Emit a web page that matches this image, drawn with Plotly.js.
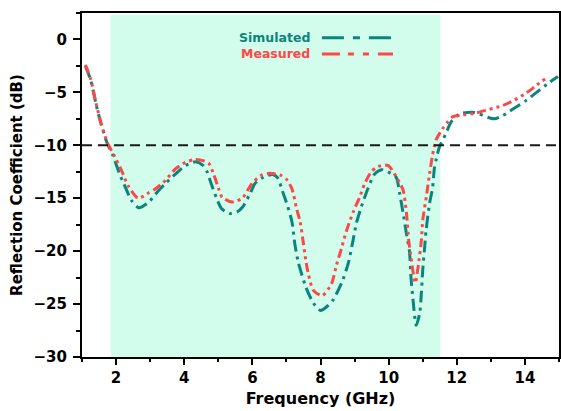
<!DOCTYPE html>
<html>
<head>
<meta charset="utf-8">
<script src="https://cdn.plot.ly/plotly-3.0.1.min.js"></script>
<style>
  html, body { margin: 0; padding: 0; background: #ffffff; }
  #chart { width: 561px; height: 411px; }
</style>
</head>
<body>
<div id="chart"></div>
<script>
// Reflection coefficient of the antenna: simulated vs measured (dB over GHz)
const freqSim = [1.10, 1.26, 1.41, 1.56, 1.75, 1.90, 2.09, 2.29, 2.45, 2.67, 2.95, 3.21, 3.45, 3.75, 4.04, 4.35, 4.55, 4.67, 4.80, 4.95, 5.10, 5.35, 5.55, 5.72, 5.94, 6.08, 6.33, 6.60, 6.75, 6.88, 7.03, 7.16, 7.25, 7.35, 7.45, 7.57, 7.79, 8.00, 8.20, 8.37, 8.62, 8.81, 8.96, 9.05, 9.20, 9.39, 9.59, 9.79, 9.98, 10.22, 10.32, 10.42, 10.52, 10.61, 10.66, 10.71, 10.81, 10.91, 10.96, 11.00, 11.05, 11.10, 11.20, 11.29, 11.34, 11.39, 11.49, 11.68, 11.83, 12.07, 12.51, 12.95, 13.10, 13.34, 13.73, 14.02, 14.36, 14.70, 14.97];
const s11Sim = [-2.5, -3.9, -6.1, -8.0, -9.9, -10.9, -12.6, -14.1, -15.2, -15.9, -15.4, -14.4, -13.6, -12.7, -11.9, -11.55, -11.9, -12.5, -13.7, -15.0, -16.0, -16.45, -16.3, -15.8, -14.5, -13.6, -13.0, -12.75, -13.1, -14.3, -15.7, -17.2, -19.4, -21.1, -22.2, -23.4, -24.9, -25.6, -25.2, -24.6, -23.0, -21.2, -18.9, -17.4, -15.8, -14.1, -12.7, -12.3, -12.5, -13.0, -14.5, -16.3, -18.3, -20.0, -22.7, -24.4, -27.0, -25.9, -24.0, -21.8, -19.9, -18.0, -15.5, -14.0, -12.2, -11.4, -10.15, -8.9, -7.8, -7.05, -6.9, -7.4, -7.5, -7.2, -6.4, -5.8, -4.95, -4.1, -3.5];

const freqMeas = [1.10, 1.26, 1.41, 1.56, 1.75, 1.95, 2.15, 2.35, 2.65, 2.92, 3.16, 3.45, 3.75, 4.04, 4.30, 4.50, 4.72, 4.85, 5.01, 5.11, 5.40, 5.70, 5.99, 6.28, 6.52, 6.81, 7.00, 7.16, 7.30, 7.40, 7.50, 7.57, 7.64, 7.79, 8.05, 8.32, 8.47, 8.62, 8.76, 8.96, 9.15, 9.30, 9.49, 9.69, 9.98, 10.17, 10.42, 10.52, 10.59, 10.66, 10.78, 10.86, 10.96, 11.00, 11.12, 11.20, 11.29, 11.39, 11.59, 11.73, 11.88, 12.12, 12.56, 12.95, 13.34, 13.68, 14.02, 14.35, 14.65];
const s11Meas = [-2.4, -3.8, -6.0, -7.9, -9.8, -11.0, -12.3, -13.8, -15.0, -14.55, -14.1, -13.3, -12.2, -11.6, -11.35, -11.4, -11.7, -12.6, -14.1, -14.9, -15.35, -15.0, -13.6, -12.8, -12.65, -12.8, -13.2, -14.1, -16.0, -17.2, -19.3, -20.9, -22.1, -23.7, -24.2, -23.1, -21.3, -19.7, -18.1, -16.3, -14.9, -13.6, -12.5, -12.0, -11.9, -12.7, -14.2, -16.3, -19.0, -20.7, -23.0, -21.6, -19.0, -17.1, -14.55, -12.7, -10.9, -9.5, -8.4, -7.8, -7.3, -7.15, -6.95, -6.6, -6.25, -5.75, -5.1, -4.3, -3.6];

const seriesNames = ['Simulated', 'Measured'];
const seriesColors = ['#0a857b', '#ff4747'];
const seriesDash = ['12px,5px,3px,5px', '9px,4px,3px,4px,3px,4px'];
const legendDash = ['22px,9px,7px,9px', '18px,8px,6px,9px,6px,9px'];

// operating band shaded in mint, and the -10 dB reference level
const bandStart = 1.84;
const bandEnd = 11.52;
const threshold = -10;

const xTickVals = [2, 4, 6, 8, 10, 12, 14];
const yTickVals = [0, -5, -10, -15, -20, -25, -30];

const FONT = '"DejaVu Sans", Arial, sans-serif';

const traces = [
  { x: freqSim, y: s11Sim },
  { x: freqMeas, y: s11Meas }
].map((d, i) => ({
  type: 'scatter',
  mode: 'lines',
  name: seriesNames[i],
  x: d.x,
  y: d.y,
  line: { color: seriesColors[i], width: 3, dash: seriesDash[i], shape: 'spline', smoothing: 0.7 },
  hoverinfo: 'skip'
}));

// text-then-line legend rows in the upper part of the band
const legendY = [0.928, 0.881];
const legendShapes = seriesNames.map((n, i) => ({
  type: 'line', xref: 'paper', yref: 'paper',
  x0: 0.503, x1: 0.652, y0: legendY[i], y1: legendY[i],
  line: { color: seriesColors[i], width: 3, dash: legendDash[i] }
}));
const legendLabels = seriesNames.map((n, i) => ({
  xref: 'paper', yref: 'paper', x: 0.483, y: legendY[i],
  xanchor: 'right', yanchor: 'middle', showarrow: false,
  text: n,
  font: { family: FONT, size: 12.5, color: seriesColors[i], weight: 'bold' }
}));

const layout = {
  width: 561,
  height: 411,
  margin: { l: 82, r: 2, t: 13, b: 54 },
  paper_bgcolor: '#ffffff',
  plot_bgcolor: '#ffffff',
  showlegend: false,
  font: { family: FONT, color: '#000000' },
  xaxis: {
    range: [1, 15],
    tickvals: xTickVals,
    ticks: 'outside', ticklen: 6, tickwidth: 2, tickcolor: '#000',
    minor: { dtick: 1, tick0: 1, ticks: 'outside', ticklen: 3, tickwidth: 2, tickcolor: '#000' },
    showline: true, linecolor: '#000', linewidth: 2, mirror: true,
    showgrid: false, zeroline: false,
    tickfont: { family: FONT, size: 15, color: '#000', weight: 'bold' },
    title: { text: 'Frequency (GHz)', standoff: 7, font: { family: FONT, size: 16, color: '#000', weight: 'bold' } },
    automargin: false
  },
  yaxis: {
    range: [-30, 2.5],
    tickvals: yTickVals,
    ticks: 'outside', ticklen: 7, tickwidth: 2, tickcolor: '#000',
    ticklabelstandoff: 3,
    minor: { dtick: 2.5, tick0: 0, ticks: 'outside', ticklen: 4, tickwidth: 2, tickcolor: '#000' },
    showline: true, linecolor: '#000', linewidth: 2, mirror: true,
    showgrid: false, zeroline: false,
    tickfont: { family: FONT, size: 15, color: '#000', weight: 'bold' },
    title: { text: 'Reflection Coefficient (dB)', standoff: 7, font: { family: FONT, size: 15, color: '#000', weight: 'bold' } },
    automargin: false
  },
  shapes: [
    {
      type: 'rect', layer: 'below', xref: 'x', yref: 'paper',
      x0: bandStart, x1: bandEnd, y0: 0, y1: 0.995,
      fillcolor: '#d2fcec', line: { width: 0 }
    },
    {
      type: 'line', layer: 'above', xref: 'paper', yref: 'y',
      x0: 0, x1: 1, y0: threshold, y1: threshold,
      line: { color: '#1a1a1a', width: 2, dash: '10px,6px' }
    }
  ].concat(legendShapes),
  annotations: legendLabels
};

Plotly.newPlot('chart', traces, layout, { staticPlot: true, displayModeBar: false });
</script>
</body>
</html>
